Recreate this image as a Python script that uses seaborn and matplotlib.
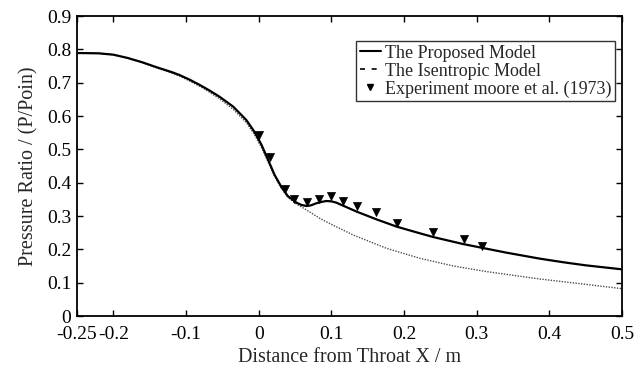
import seaborn as sns
import matplotlib.pyplot as plt
from matplotlib.lines import Line2D

# The Proposed Model
prop_x = [-0.25, -0.22, -0.2, -0.18, -0.16, -0.14, -0.12, -0.109, -0.095, -0.081,
          -0.068, -0.054, -0.035, -0.017, -0.006, 0.004, 0.013, 0.022, 0.031, 0.04,
          0.052, 0.059, 0.066, 0.072, 0.079, 0.086, 0.093, 0.1, 0.107, 0.112,
          0.135, 0.162, 0.19, 0.222, 0.24, 0.281, 0.304, 0.341, 0.387, 0.42,
          0.45, 0.5]
prop_y = [0.789, 0.788, 0.784, 0.774, 0.761, 0.746, 0.732, 0.723, 0.709, 0.693,
          0.677, 0.658, 0.628, 0.588, 0.553, 0.513, 0.468, 0.423, 0.388, 0.36,
          0.34, 0.333, 0.33, 0.332, 0.338, 0.342, 0.345, 0.344, 0.34, 0.335,
          0.313, 0.29, 0.268, 0.248, 0.237, 0.216, 0.206, 0.19, 0.172, 0.161,
          0.152, 0.14]

# The Isentropic Model
isen_x = [-0.25, -0.22, -0.2, -0.18, -0.16, -0.14, -0.12, -0.109, -0.095, -0.081,
          -0.068, -0.054, -0.035, -0.017, -0.006, 0.004, 0.013, 0.022, 0.031, 0.04,
          0.052, 0.066, 0.084, 0.1, 0.13, 0.176, 0.222, 0.268, 0.314, 0.387,
          0.45, 0.5]
isen_y = [0.789, 0.788, 0.784, 0.773, 0.76, 0.744, 0.729, 0.72, 0.705, 0.689,
          0.672, 0.652, 0.62, 0.58, 0.545, 0.505, 0.462, 0.418, 0.384, 0.356,
          0.336, 0.318, 0.293, 0.275, 0.243, 0.203, 0.173, 0.15, 0.133, 0.111,
          0.095, 0.082]

# Experiment moore et al. (1973)
exp_x = [0.0, 0.015, 0.036, 0.049, 0.066, 0.083, 0.099, 0.116, 0.135, 0.161,
         0.191, 0.240, 0.282, 0.307]
exp_y = [0.543, 0.477, 0.381, 0.35, 0.342, 0.35, 0.361, 0.346, 0.331, 0.311,
         0.280, 0.251, 0.231, 0.211]

xticks = [-0.25, -0.2, -0.1, 0, 0.1, 0.2, 0.3, 0.4, 0.5]
xtick_labels = ['-0.25', '-0.2', '-0.1', '0', '0.1', '0.2', '0.3', '0.4', '0.5']
yticks = [0, 0.1, 0.2, 0.3, 0.4, 0.5, 0.6, 0.7, 0.8, 0.9]
ytick_labels = ['0', '0.1', '0.2', '0.3', '0.4', '0.5', '0.6', '0.7', '0.8', '0.9']

sns.set_style("ticks")
plt.rcParams['font.family'] = ['Liberation Serif', 'DejaVu Serif']

fig = plt.figure(figsize=(6.38, 3.68), dpi=100)
ax = fig.add_axes([0.1207, 0.1413, 0.8543, 0.8152])

sns.lineplot(x=isen_x, y=isen_y, sort=False, ax=ax, color='0.3',
             linewidth=1.0, linestyle=(0, (1, 1)))
sns.lineplot(x=prop_x, y=prop_y, sort=False, ax=ax, color='black', linewidth=1.6)
sns.scatterplot(x=exp_x, y=exp_y, ax=ax, marker='v', color='black', s=34,
                edgecolor='black', linewidth=0.5, zorder=5)

ax.set_xlim(-0.25, 0.5)
ax.set_ylim(0, 0.9)
ax.set_xticks(xticks)
ax.set_xticklabels(xtick_labels)
ax.set_yticks(yticks)
ax.set_yticklabels(ytick_labels)
ax.tick_params(direction='in', length=4, width=1, labelsize=14, colors='black',
               top=True, right=True)
ax.tick_params(axis='x', pad=7)
ax.tick_params(axis='y', pad=4)
for s in ax.spines.values():
    s.set_visible(True)
    s.set_linewidth(1.3)
    s.set_color('black')

ax.set_xlabel("Distance from Throat X / m", fontsize=14.5, labelpad=4)
ax.set_ylabel("Pressure Ratio / (P/Poin)", fontsize=14.5, labelpad=6)

handles = [
    Line2D([], [], color='black', linewidth=1.5),
    Line2D([], [], color='black', linewidth=1.2, linestyle=(0, (3, 4))),
    Line2D([], [], color='black', marker='v', linestyle='none', markersize=5),
]
labels = ["The Proposed Model", "The Isentropic Model",
          "Experiment moore et al. (1973)"]
leg = ax.legend(handles, labels, loc='upper right', bbox_to_anchor=(0.987, 0.9167),
                fontsize=13, frameon=True, fancybox=False, edgecolor='black',
                handlelength=1.2, handletextpad=0.2, borderpad=0.2,
                labelspacing=0.05, borderaxespad=0)
leg.get_frame().set_linewidth(1.0)

fig.savefig("out.png", dpi=100)
